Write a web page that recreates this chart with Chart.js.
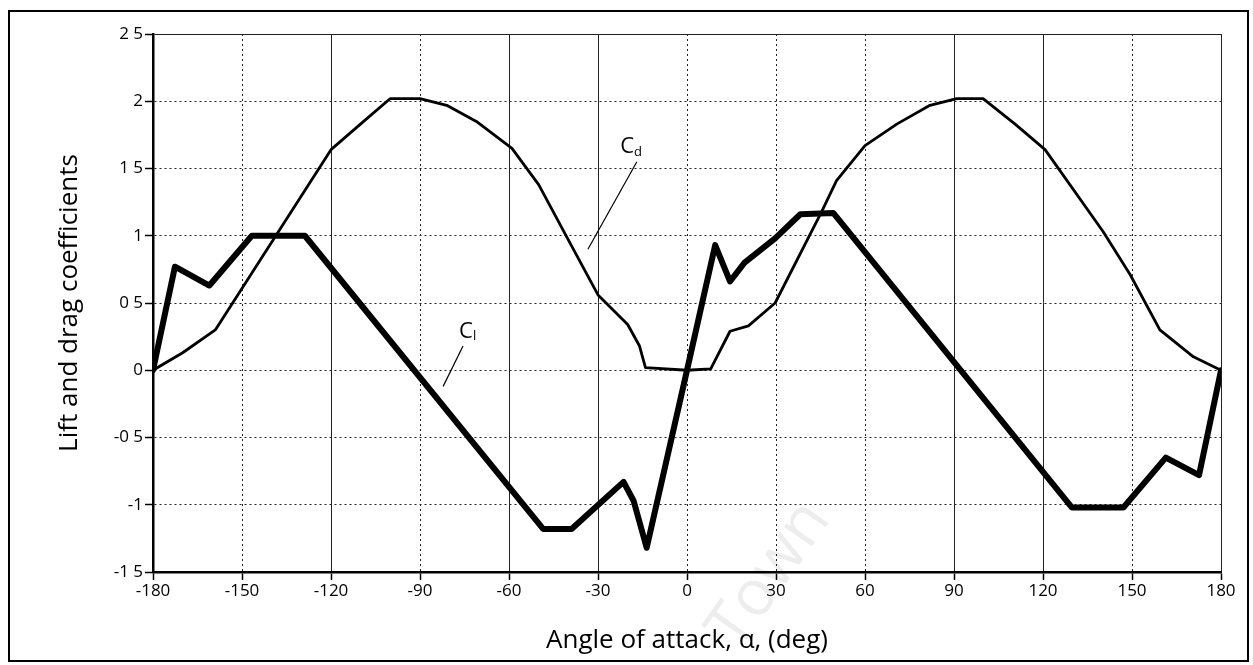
<!DOCTYPE html>
<html>
<head>
<meta charset="utf-8">
<script src="https://cdn.jsdelivr.net/npm/chart.js@4"></script>
<style>
  html, body { margin: 0; padding: 0; background: #fff; }
  #wrap { position: relative; width: 1253px; height: 665px; }
  #frame { position: absolute; left: 8px; top: 10px; width: 1237px; height: 648px; border: 2px solid #000; pointer-events: none; }
  canvas { position: absolute; left: 0; top: 0; }
</style>
</head>
<body>
<div id="wrap">
  <canvas id="c" width="1253" height="665"></canvas>
  <div id="frame"></div>
</div>
<script>
// ---- data ----
const clAngles = [-180, -172.6, -161, -146.7, -128.8, -48.5, -38.9, -21.4, -18, -13.6, 0, 9.5, 14.5, 19.4, 29.7, 38.2, 49.3, 129.7, 147.1, 161.4, 172.6, 180];
const clValues = [0, 0.77, 0.63, 1.0, 1.0, -1.18, -1.18, -0.83, -0.97, -1.32, 0, 0.93, 0.66, 0.80, 0.98, 1.16, 1.17, -1.02, -1.02, -0.65, -0.78, 0];

const cdAngles = [-180, -170, -159, -120, -109, -100, -90, -81, -71, -59, -50, -41, -30, -20, -16, -14, 0, 8, 14.5, 20.7, 29.7, 45.4, 50.4, 60, 70.7, 81.9, 90.9, 99.8, 110.6, 120.7, 140.3, 149.4, 159.4, 170.7, 180];
const cdValues = [0, 0.13, 0.30, 1.64, 1.85, 2.02, 2.02, 1.97, 1.85, 1.65, 1.38, 1.01, 0.56, 0.34, 0.18, 0.02, 0, 0.01, 0.29, 0.33, 0.50, 1.18, 1.41, 1.67, 1.83, 1.97, 2.02, 2.02, 1.83, 1.64, 1.03, 0.71, 0.30, 0.10, 0];

const xTicks = [-180, -150, -120, -90, -60, -30, 0, 30, 60, 90, 120, 150, 180];
const xSolidGrid = [-120, -60, -30, 90, 120, 180];
const yTickValues = [-1.5, -1, -0.5, 0, 0.5, 1, 1.5, 2, 2.5];
const yTickLabels = ['-1 5', '-1', '-0 5', '0', '0 5', '1', '1 5', '2', '2 5'];

// curve annotations: label text, subscript, label anchor, leader start, leader end (data units)
const annText = ['C', 'C'];
const annSub = ['d', 'l'];
const annAt = [[-20.2, 1.66], [-74.5, 0.29]];
const annLeadFrom = [[-16.9, 1.55], [-75.5, 0.18]];
const annLeadTo = [[-33.4, 0.90], [-82.2, -0.12]];

const xTitle = 'Angle of attack, \u03b1, (deg)';
const yTitle = 'Lift and drag coefficients';

function pts(xs, ys) { return xs.map((x, i) => ({ x: x, y: ys[i] })); }

const FONT = '"Open Sans", "DejaVu Sans", sans-serif';

const annotatePlugin = {
  id: 'annotate',
  afterDatasetsDraw(chart) {
    const { ctx, scales: { x, y } } = chart;
    ctx.save();
    ctx.strokeStyle = '#000';
    ctx.lineWidth = 1.2;
    for (let i = 0; i < annText.length; i++) {
      ctx.beginPath();
      ctx.moveTo(x.getPixelForValue(annLeadFrom[i][0]), y.getPixelForValue(annLeadFrom[i][1]));
      ctx.lineTo(x.getPixelForValue(annLeadTo[i][0]), y.getPixelForValue(annLeadTo[i][1]));
      ctx.stroke();
      const px = x.getPixelForValue(annAt[i][0]);
      const py = y.getPixelForValue(annAt[i][1]);
      ctx.fillStyle = '#000';
      ctx.textAlign = 'center';
      ctx.textBaseline = 'middle';
      ctx.font = '22px ' + FONT;
      ctx.fillText(annText[i], px, py);
      ctx.font = '13px ' + FONT;
      ctx.textAlign = 'left';
      ctx.fillText(annSub[i], px + 7, py + 5);
    }
    // faint watermark
    ctx.save();
    ctx.translate(770, 575);
    ctx.rotate(-55 * Math.PI / 180);
    ctx.fillStyle = 'rgba(0,0,0,0.07)';
    ctx.font = '64px ' + FONT;
    ctx.textAlign = 'center';
    ctx.textBaseline = 'middle';
    ctx.fillText('Town', 0, 0);
    ctx.restore();
    ctx.restore();
  }
};

new Chart(document.getElementById('c'), {
  type: 'line',
  data: {
    datasets: [
      { label: 'Cl', data: pts(clAngles, clValues), borderColor: '#000', borderWidth: 6, tension: 0, pointRadius: 0, borderJoinStyle: 'round', borderCapStyle: 'round', order: 0 },
      { label: 'Cd', data: pts(cdAngles, cdValues), borderColor: '#000', borderWidth: 2.8, tension: 0, pointRadius: 0, borderJoinStyle: 'round', order: 1 }
    ]
  },
  options: {
    responsive: false,
    animation: false,
    devicePixelRatio: 1,
    layout: { padding: { left: 0, right: 32, top: 34, bottom: 0 } },
    plugins: { legend: { display: false }, tooltip: { enabled: false } },
    scales: {
      x: {
        type: 'linear',
        min: -180, max: 180,
        afterBuildTicks: (s) => { s.ticks = xTicks.map(v => ({ value: v })); },
        afterFit: (s) => { s.height = 93; },
        ticks: { color: '#000', font: { family: FONT, size: 17 }, padding: 1, maxRotation: 0, autoSkip: false },
        grid: { color: '#222', lineWidth: 1, tickLength: 8, tickColor: '#000', tickWidth: 1.5 },
        border: {
          display: true, color: '#000', width: 2.5,
          dash: (c) => (c.tick && xSolidGrid.includes(c.tick.value)) ? [] : [2, 3]
        },
        title: { display: true, text: xTitle, color: '#000', font: { family: FONT, size: 26 }, padding: { top: 0, bottom: 9 } }
      },
      y: {
        type: 'linear',
        min: -1.5, max: 2.5,
        afterBuildTicks: (s) => { s.ticks = yTickValues.map(v => ({ value: v })); },
        afterFit: (s) => { s.width = 153; },
        ticks: {
          color: '#000', font: { family: FONT, size: 17 }, padding: 2, autoSkip: false,
          callback: (v) => { const i = yTickValues.indexOf(v); return i >= 0 ? yTickLabels[i] : ''; }
        },
        grid: { color: '#222', lineWidth: 1, tickLength: 8, tickColor: '#000', tickWidth: 1.5 },
        border: {
          display: true, color: '#000', width: 2.5,
          dash: (c) => (c.tick && c.tick.value === 2.5) ? [] : [2, 3]
        },
        title: { display: true, text: yTitle, color: '#000', font: { family: FONT, size: 26 }, padding: { top: 54, bottom: 0 } }
      }
    }
  },
  plugins: [annotatePlugin]
});
</script>
</body>
</html>
